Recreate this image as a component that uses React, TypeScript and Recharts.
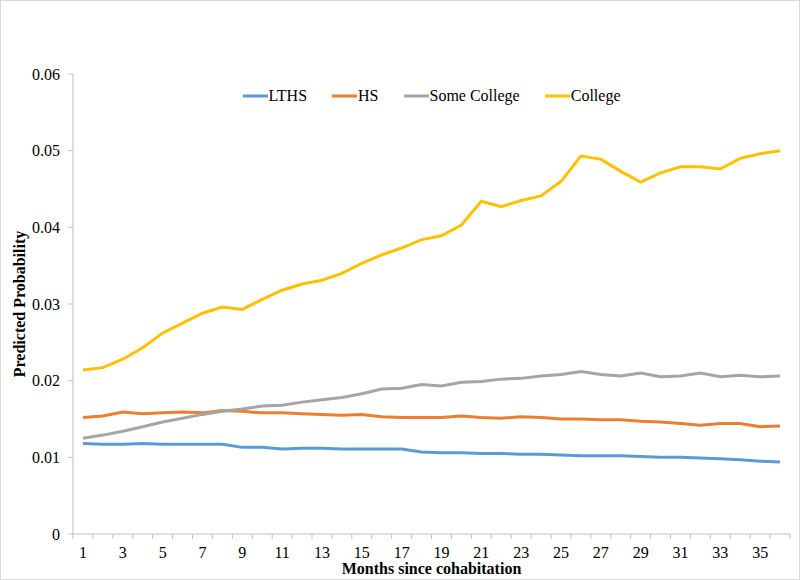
import React from 'react'
import { LineChart, Line, XAxis, YAxis, Legend } from 'recharts'

const months = [
  1, 2, 3, 4, 5, 6, 7, 8, 9, 10, 11, 12, 13, 14, 15, 16, 17, 18,
  19, 20, 21, 22, 23, 24, 25, 26, 27, 28, 29, 30, 31, 32, 33, 34, 35, 36,
]

const lths = [
  0.0118, 0.0117, 0.0117, 0.0118, 0.0117, 0.0117, 0.0117, 0.0117, 0.0113, 0.0113,
  0.0111, 0.0112, 0.0112, 0.0111, 0.0111, 0.0111, 0.0111, 0.0107, 0.0106, 0.0106,
  0.0105, 0.0105, 0.0104, 0.0104, 0.0103, 0.0102, 0.0102, 0.0102, 0.0101, 0.01,
  0.01, 0.0099, 0.0098, 0.0097, 0.0095, 0.0094,
]

const hs = [
  0.0152, 0.0154, 0.0159, 0.0157, 0.0158, 0.0159, 0.0158, 0.0161, 0.016, 0.0158,
  0.0158, 0.0157, 0.0156, 0.0155, 0.0156, 0.0153, 0.0152, 0.0152, 0.0152, 0.0154,
  0.0152, 0.0151, 0.0153, 0.0152, 0.015, 0.015, 0.0149, 0.0149, 0.0147, 0.0146,
  0.0144, 0.0142, 0.0144, 0.0144, 0.014, 0.0141,
]

const someCollege = [
  0.0125, 0.0129, 0.0134, 0.014, 0.0146, 0.0151, 0.0156, 0.016, 0.0163, 0.0167,
  0.0168, 0.0172, 0.0175, 0.0178, 0.0183, 0.0189, 0.019, 0.0195, 0.0193, 0.0198,
  0.0199, 0.0202, 0.0203, 0.0206, 0.0208, 0.0212, 0.0208, 0.0206, 0.021, 0.0205,
  0.0206, 0.021, 0.0205, 0.0207, 0.0205, 0.0206,
]

const college = [
  0.0214, 0.0217, 0.0228, 0.0243, 0.0262, 0.0275, 0.0288, 0.0296, 0.0293, 0.0306,
  0.0318, 0.0326, 0.0331, 0.034, 0.0353, 0.0364, 0.0373, 0.0384, 0.0389, 0.0403,
  0.0434, 0.0427, 0.0435, 0.0441, 0.046, 0.0493, 0.0489, 0.0473, 0.0459, 0.0471,
  0.0479, 0.0479, 0.0476, 0.049, 0.0496, 0.05,
]

const yTicks = [0, 0.01, 0.02, 0.03, 0.04, 0.05, 0.06]

const series = [
  { key: 'LTHS', color: '#5B9BD5' },
  { key: 'HS', color: '#ED7D31' },
  { key: 'Some College', color: '#A5A5A5' },
  { key: 'College', color: '#FFC000' },
]

const data = months.map((m, i) => ({
  month: m,
  LTHS: lths[i],
  HS: hs[i],
  'Some College': someCollege[i],
  College: college[i],
}))

// labels on odd months, tick marks on the category boundaries
const boundaries = [...months.map((m) => m - 0.5), months[months.length - 1] + 0.5]
const xTicks = [...boundaries, ...months.filter((m) => m % 2 === 1)].sort((a, b) => a - b)

const FONT = "'Times New Roman', 'Liberation Serif', 'DejaVu Serif', serif"
const AXIS = '#bfbfbf'

function MonthTick({ x, y, payload }: any) {
  const v = payload.value
  if (Number.isInteger(v)) {
    return (
      <text x={x} y={y + 13} dy="0.71em" textAnchor="middle" fill="#000" style={{ fontSize: 16, fontFamily: FONT }}>
        {v}
      </text>
    )
  }
  return <line x1={x} x2={x} y1={y} y2={y + 5} stroke={AXIS} />
}

function YTick({ x, y, payload }: any) {
  const v = payload.value
  return (
    <text x={x} y={y} dy="0.355em" textAnchor="end" fill="#000" style={{ fontSize: 16, fontFamily: FONT }}>
      {v === 0 ? '0' : v.toFixed(2)}
    </text>
  )
}

// built from the series list so the order stays LTHS, HS, Some College, College
function LegendBox() {
  return (
    <div style={{ display: 'flex', justifyContent: 'center', gap: 25, fontFamily: FONT, fontSize: 16 }}>
      {series.map((s) => (
        <div key={s.key} style={{ display: 'flex', alignItems: 'center' }}>
          <svg width={25} height={4} style={{ marginRight: 1 }}>
            <line x1={0} x2={25} y1={2} y2={2} stroke={s.color} strokeWidth={3} strokeLinecap="round" />
          </svg>
          <span>{s.key}</span>
        </div>
      ))}
    </div>
  )
}

export default function App() {
  return (
    <div
      style={{
        position: 'absolute',
        left: 0,
        top: 0,
        width: 800,
        height: 580,
        border: '1px solid #d9d9d9',
        boxSizing: 'border-box',
        background: '#fff',
        fontFamily: FONT,
      }}
    >
      <LineChart width={798} height={578} data={data} margin={{ top: 73, right: 9, bottom: 0, left: 0 }}>
        <XAxis
          dataKey="month"
          type="number"
          domain={[0.5, 36.5]}
          ticks={xTicks}
          interval={0}
          height={45}
          stroke={AXIS}
          tickLine={false}
          tickSize={0}
          tickMargin={0}
          tick={<MonthTick />}
          label={({ viewBox }: any) => (
            <text
              x={viewBox.x + viewBox.width / 2}
              y={573}
              textAnchor="middle"
              fill="#000"
              style={{ fontSize: 16, fontFamily: FONT, fontWeight: 'bold' }}
            >
              Months since cohabitation
            </text>
          )}
        />
        <YAxis
          type="number"
          domain={[0, 0.06]}
          ticks={yTicks}
          width={72}
          stroke={AXIS}
          tickSize={5}
          tickMargin={8}
          tick={<YTick />}
          label={({ viewBox }: any) => {
            const cy = viewBox.y + viewBox.height / 2
            return (
              <text
                x={18}
                y={cy}
                transform={`rotate(-90, 18, ${cy})`}
                textAnchor="middle"
                dominantBaseline="central"
                fill="#000"
                style={{ fontSize: 16, fontFamily: FONT, fontWeight: 'bold' }}
              >
                Predicted Probability
              </text>
            )
          }}
        />
        <Legend
          verticalAlign="middle"
          align="center"
          wrapperStyle={{ top: 86, left: 72, width: 717 }}
          content={<LegendBox />}
        />
        {series.map((s) => (
          <Line
            key={s.key}
            type="linear"
            dataKey={s.key}
            stroke={s.color}
            strokeWidth={3}
            dot={false}
            activeDot={false}
            isAnimationActive={false}
          />
        ))}
      </LineChart>
    </div>
  )
}
